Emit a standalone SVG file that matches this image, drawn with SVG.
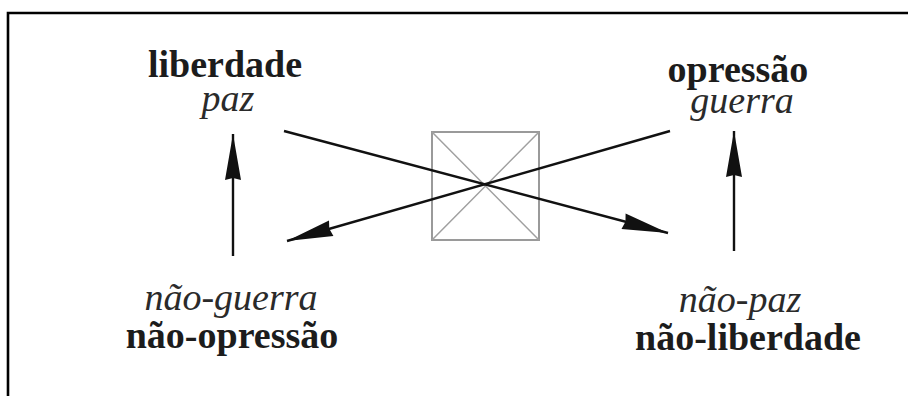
<svg xmlns="http://www.w3.org/2000/svg" width="908" height="396" viewBox="0 0 908 396">
  <style>
    .b { font-family: "Liberation Serif", "Times New Roman", serif; font-weight: bold; font-size: 38px; fill: #1c1c1c; text-anchor: middle; }
    .i { font-family: "Liberation Serif", "Times New Roman", serif; font-style: italic; font-size: 38px; fill: #2a2a2a; text-anchor: middle; }
    .conn { stroke: #111; stroke-width: 2.4; fill: none; }
    .frame { stroke: #000; stroke-width: 2.6; fill: none; }
    .box { stroke: #9a9a9a; stroke-width: 2; fill: none; }
    .boxdiag { stroke: #a0a0a0; stroke-width: 1.5; fill: none; }
  </style>
  <defs>
    <marker id="head" markerUnits="userSpaceOnUse" viewBox="-48 -10 50 20" refX="0" refY="0" markerWidth="50" markerHeight="20" orient="auto">
      <path d="M0,0 L-46,-8 L-44,0 L-46,8 Z" fill="#111"/>
    </marker>
  </defs>

  <rect width="908" height="396" fill="#ffffff"/>

  <!-- page frame: top and left rules -->
  <path class="frame" d="M8,396 L8,13 L908,13"/>

  <!-- centre square with its diagonals -->
  <g id="square">
    <rect class="box" x="432" y="132" width="107" height="108"/>
    <path class="boxdiag" d="M432,132 L539,240 M539,132 L432,240"/>
  </g>

  <g id="liberdade">
    <text class="b" x="225" y="77">liberdade</text>
    <text class="i" x="228" y="111">paz</text>
  </g>

  <g id="opressao">
    <text class="b" x="738" y="82">opressão</text>
    <text class="i" x="742" y="113">guerra</text>
  </g>

  <g id="nao-opressao">
    <text class="i" x="231" y="310">não-guerra</text>
    <text class="b" x="232" y="348">não-opressão</text>
  </g>

  <g id="nao-liberdade">
    <text class="i" x="740" y="312">não-paz</text>
    <text class="b" x="748" y="350">não-liberdade</text>
  </g>

  <g id="connectors">
    <line class="conn" x1="233" y1="256" x2="233" y2="134" marker-end="url(#head)"/>
    <line class="conn" x1="734" y1="251" x2="734" y2="131" marker-end="url(#head)"/>
    <line class="conn" x1="284" y1="131" x2="668" y2="233" marker-end="url(#head)"/>
    <line class="conn" x1="670" y1="131" x2="287" y2="241" marker-end="url(#head)"/>
  </g>
</svg>
